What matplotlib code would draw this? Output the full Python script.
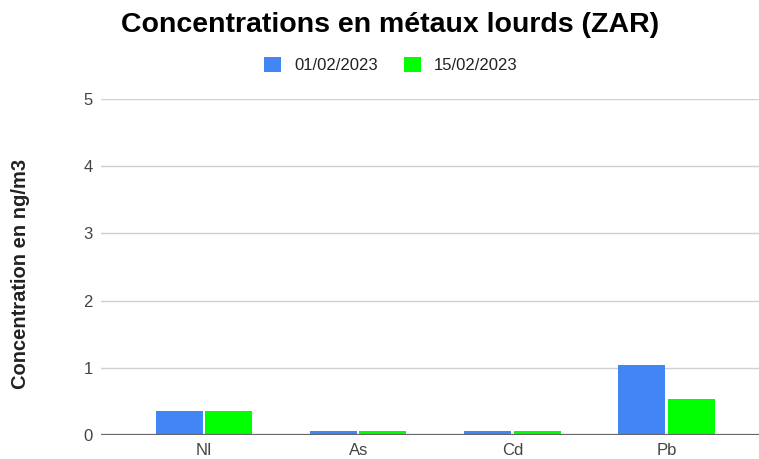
import matplotlib
matplotlib.use("Agg")
import matplotlib.pyplot as plt
import numpy as np

plt.rcParams["font.family"] = ["Liberation Sans", "DejaVu Sans"]

metals = ["NI", "As", "Cd", "Pb"]
series_labels = ["01/02/2023", "15/02/2023"]
values_0102 = [0.36, 0.06, 0.06, 1.04]
values_1502 = [0.36, 0.06, 0.06, 0.53]
colors = ["#4285f4", "#00ff00"]

fig = plt.figure(figsize=(7.59, 4.59), dpi=100)
ax = fig.add_axes([0.133, 0.0523, 0.867, 0.7320])

x = np.arange(len(metals))
w = 0.305
ax.bar(x - 0.16, values_0102, width=w, color=colors[0], label=series_labels[0], zorder=3)
ax.bar(x + 0.16, values_1502, width=w, color=colors[1], label=series_labels[1], zorder=3)

ax.set_xlim(-0.67, 3.6)
ax.set_ylim(0, 5)
ax.set_yticks(range(6))
ax.set_xticks(x)
ax.set_xticklabels(metals)
ax.grid(axis="y", color="#d0d0d0", linewidth=1, zorder=0)
ax.axhline(0, color="#666666", linewidth=1.6, zorder=4)
for s in ax.spines.values():
    s.set_visible(False)
ax.tick_params(axis="both", length=0, labelsize=12, labelcolor="#444444")
ax.tick_params(axis="y", pad=6)
ax.tick_params(axis="x", pad=6)

ax.set_ylabel("Concentration en ng/m3", fontsize=14.5, fontweight="bold", color="#222222")
ax.yaxis.set_label_coords(-0.108, 0.479)

fig.text(0.514, 0.946, "Concentrations en métaux lourds (ZAR)", ha="center", va="center",
         fontsize=20.5, fontweight="bold", color="#000000")
fig.legend(loc="center", bbox_to_anchor=(0.515, 0.858), ncol=2, frameon=False,
           fontsize=12, handlelength=1.0, handleheight=1.0, columnspacing=1.6,
           handletextpad=0.8, labelcolor="#222222")

fig.savefig("out.png", dpi=100)
